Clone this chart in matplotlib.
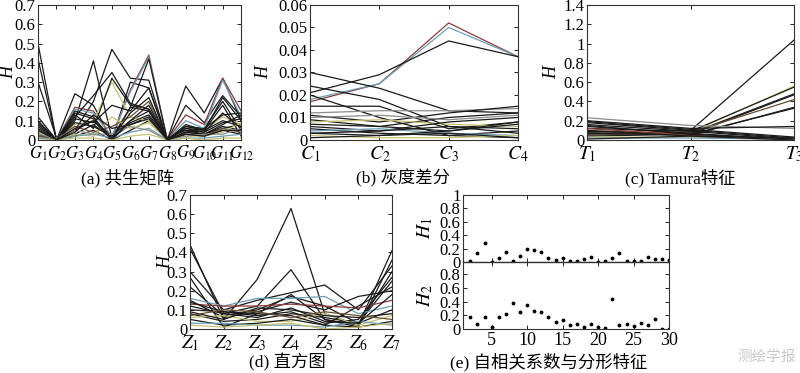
import matplotlib
matplotlib.use("Agg")
import matplotlib.pyplot as plt
from matplotlib.ticker import FuncFormatter

plt.rcParams["font.family"] = ["Liberation Serif", "Noto Sans CJK SC"]
plt.rcParams["mathtext.fontset"] = "stix"
plt.rcParams["font.size"] = 11

# =========================================================
# data
# =========================================================

# (a) co-occurrence matrix, G1..G12
glcm_labels = [f"$G_{{{i}}}$" for i in range(1, 13)]
glcm_lines = [
    [0.50, 0.00, 0.02, 0.05, 0.00, 0.05, 0.10, 0.00, 0.03, 0.02, 0.05, 0.03],
    [0.42, 0.00, 0.03, 0.08, 0.01, 0.08, 0.12, 0.00, 0.05, 0.03, 0.07, 0.05],
    [0.30, 0.01, 0.05, 0.10, 0.02, 0.10, 0.15, 0.00, 0.04, 0.03, 0.06, 0.08],
    [0.05, 0.00, 0.24, 0.18, 0.00, 0.30, 0.27, 0.00, 0.28, 0.14, 0.32, 0.10],
    [0.03, 0.00, 0.10, 0.41, 0.01, 0.17, 0.15, 0.00, 0.18, 0.09, 0.23, 0.12],
    [0.02, 0.00, 0.05, 0.20, 0.47, 0.32, 0.31, 0.00, 0.07, 0.06, 0.20, 0.05],
    [0.04, 0.00, 0.17, 0.15, 0.01, 0.26, 0.44, 0.00, 0.13, 0.08, 0.32, 0.15],
    [0.02, 0.00, 0.16, 0.14, 0.02, 0.25, 0.43, 0.00, 0.10, 0.06, 0.31, 0.12],
    [0.03, 0.00, 0.12, 0.23, 0.35, 0.19, 0.16, 0.00, 0.08, 0.05, 0.22, 0.10],
    [0.01, 0.00, 0.08, 0.10, 0.30, 0.12, 0.10, 0.00, 0.05, 0.05, 0.12, 0.08],
    [0.06, 0.00, 0.15, 0.12, 0.00, 0.17, 0.42, 0.00, 0.06, 0.05, 0.18, 0.02],
    [0.08, 0.00, 0.13, 0.06, 0.32, 0.18, 0.16, 0.00, 0.04, 0.03, 0.08, 0.13],
    [0.10, 0.00, 0.11, 0.09, 0.18, 0.15, 0.27, 0.00, 0.06, 0.04, 0.14, 0.06],
    [0.02, 0.01, 0.07, 0.04, 0.07, 0.12, 0.20, 0.00, 0.03, 0.02, 0.06, 0.04],
    [0.04, 0.00, 0.03, 0.02, 0.12, 0.06, 0.09, 0.00, 0.02, 0.02, 0.04, 0.09],
    [0.01, 0.00, 0.02, 0.03, 0.01, 0.04, 0.06, 0.00, 0.01, 0.01, 0.02, 0.03],
    [0.07, 0.00, 0.09, 0.07, 0.02, 0.09, 0.13, 0.01, 0.05, 0.04, 0.09, 0.11],
    [0.03, 0.01, 0.05, 0.03, 0.03, 0.07, 0.05, 0.00, 0.02, 0.03, 0.03, 0.06],
    [0.12, 0.00, 0.06, 0.10, 0.00, 0.10, 0.18, 0.00, 0.07, 0.05, 0.10, 0.07],
    [0.05, 0.00, 0.14, 0.11, 0.01, 0.14, 0.22, 0.00, 0.04, 0.06, 0.13, 0.14],
    [0.00, 0.00, 0.01, 0.01, 0.00, 0.02, 0.03, 0.00, 0.01, 0.00, 0.01, 0.01],
    [0.09, 0.00, 0.04, 0.13, 0.06, 0.08, 0.11, 0.00, 0.03, 0.02, 0.05, 0.05],
]

# (b) grey-level difference, C1..C4
gld_labels = [f"$C_{{{i}}}$" for i in range(1, 5)]
gld_lines = [
    [0.017, 0.025, 0.052, 0.037],
    [0.018, 0.025, 0.050, 0.037],
    [0.021, 0.029, 0.044, 0.037],
    [0.030, 0.023, 0.013, 0.012],
    [0.024, 0.018, 0.006, 0.003],
    [0.020, 0.010, 0.002, 0.001],
    [0.015, 0.015, 0.005, 0.008],
    [0.012, 0.013, 0.013, 0.014],
    [0.011, 0.008, 0.012, 0.015],
    [0.009, 0.006, 0.010, 0.012],
    [0.008, 0.009, 0.007, 0.006],
    [0.006, 0.004, 0.008, 0.010],
    [0.005, 0.003, 0.002, 0.004],
    [0.004, 0.005, 0.003, 0.002],
    [0.003, 0.002, 0.004, 0.007],
    [0.002, 0.001, 0.001, 0.002],
    [0.001, 0.002, 0.003, 0.001],
    [0.007, 0.006, 0.004, 0.008],
    [0.010, 0.011, 0.009, 0.011],
    [0.003, 0.004, 0.006, 0.005],
]

# (c) Tamura features, T1..T3
tamura_labels = [f"$T_{{{i}}}$" for i in range(1, 4)]
tamura_lines = [
    [0.08, 0.10, 1.04],
    [0.10, 0.08, 0.56],
    [0.12, 0.09, 0.55],
    [0.06, 0.07, 0.48],
    [0.09, 0.06, 0.47],
    [0.05, 0.08, 0.42],
    [0.07, 0.05, 0.34],
    [0.04, 0.06, 0.33],
    [0.23, 0.15, 0.12],
    [0.20, 0.12, 0.14],
    [0.18, 0.10, 0.02],
    [0.16, 0.09, 0.01],
    [0.14, 0.07, 0.00],
    [0.12, 0.05, 0.01],
    [0.10, 0.04, 0.02],
    [0.03, 0.03, 0.00],
    [0.02, 0.02, 0.01],
    [0.19, 0.11, 0.03],
    [0.01, 0.04, 0.00],
    [0.15, 0.06, 0.01],
]

# (d) histogram, Z1..Z7
hist_labels = [f"$Z_{{{i}}}$" for i in range(1, 8)]
hist_lines = [
    [0.44, 0.05, 0.26, 0.63, 0.08, 0.02, 0.41],
    [0.42, 0.08, 0.12, 0.31, 0.05, 0.01, 0.36],
    [0.30, 0.10, 0.15, 0.19, 0.23, 0.10, 0.33],
    [0.27, 0.01, 0.08, 0.18, 0.05, 0.02, 0.30],
    [0.22, 0.07, 0.10, 0.17, 0.12, 0.03, 0.25],
    [0.16, 0.12, 0.16, 0.16, 0.17, 0.08, 0.12],
    [0.15, 0.06, 0.09, 0.14, 0.10, 0.17, 0.20],
    [0.13, 0.12, 0.12, 0.13, 0.12, 0.11, 0.15],
    [0.10, 0.09, 0.07, 0.09, 0.03, 0.05, 0.27],
    [0.08, 0.04, 0.05, 0.08, 0.06, 0.03, 0.10],
    [0.06, 0.07, 0.04, 0.04, 0.08, 0.02, 0.07],
    [0.05, 0.02, 0.03, 0.05, 0.02, 0.01, 0.04],
    [0.03, 0.03, 0.02, 0.02, 0.01, 0.04, 0.02],
    [0.12, 0.08, 0.06, 0.11, 0.04, 0.03, 0.18],
    [0.09, 0.05, 0.11, 0.10, 0.07, 0.06, 0.08],
    [0.02, 0.01, 0.02, 0.03, 0.00, 0.01, 0.03],
    [0.14, 0.09, 0.08, 0.07, 0.02, 0.12, 0.22],
    [0.07, 0.10, 0.09, 0.06, 0.09, 0.07, 0.05],
]

# (e) autocorrelation (H1) and fractal (H2), index 2..30
e_index = list(range(2, 31))
h1_values = [0.02, 0.13, 0.28, 0.00, 0.06, 0.15, 0.02, 0.09, 0.19, 0.18,
             0.15, 0.06, 0.03, 0.06, 0.01, 0.02, 0.04, 0.08, 0.00, 0.01,
             0.06, 0.13, 0.01, 0.01, 0.02, 0.08, 0.04, 0.04, 0.03]
h2_values = [0.17, 0.07, 0.17, 0.03, 0.17, 0.22, 0.375, 0.25, 0.345, 0.27,
             0.255, 0.17, 0.10, 0.13, 0.055, 0.07, 0.035, 0.07, 0.025, 0.02,
             0.435, 0.065, 0.08, 0.045, 0.09, 0.06, 0.14, 0.005, 0.00]

captions = ["(a) 共生矩阵", "(b) 灰度差分", "(c) Tamura特征", "(d) 直方图",
            "(e) 自相关系数与分形特征"]

# =========================================================
# line colours: mostly black, a few coloured ones peeking through
# =========================================================
K = "#1a1a1a"
RED = "#8a3a3a"
BLUE = "#6a9fb8"
YEL = "#c8c070"
GRY = "#8c8c8c"
BRN = "#6b5030"

glcm_colors = [K, K, K, K, K, K, RED, BLUE, K, YEL, K, K,
               K, BRN, YEL, BLUE, K, GRY, K, K, YEL, K]
gld_colors = [RED, BLUE, K, K, K, K, K, GRY, K, K, YEL, K,
              K, BLUE, K, YEL, K, K, GRY, K]
tamura_colors = [K, YEL, K, K, K, BRN, K, K, GRY, K, K, K,
                 K, RED, K, YEL, BLUE, K, K, K]
hist_colors = [K, K, K, K, K, BLUE, K, RED, K, K, YEL, K,
               BLUE, K, K, YEL, K, BRN]


def style_axes(ax):
    ax.tick_params(direction="in", length=3, width=0.6, top=True,
                   right=True, labelsize=12, pad=2)
    for s in ax.spines.values():
        s.set_linewidth(0.8)
        s.set_color("#333333")


def fmt_g(v, pos):
    return f"{v:g}"


def line_panel(ax, lines, colors, labels, ymax, ystep, label_x, xsize=14):
    for row, c in zip(lines, colors):
        ax.plot(range(len(row)), row, color=c, lw=0.9)
    ax.set_xlim(0, len(labels) - 1)
    ax.set_ylim(0, ymax)
    ax.set_xticks(range(len(labels)))
    ax.set_xticklabels(labels)
    n = int(round(ymax / ystep))
    ax.set_yticks([ystep * k for k in range(n + 1)])
    ax.yaxis.set_major_formatter(FuncFormatter(fmt_g))
    style_axes(ax)
    ax.tick_params(axis="x", pad=3, labelsize=xsize)
    ax.set_ylabel("H", style="italic", fontsize=13)
    ax.yaxis.set_label_coords(label_x, 0.5)


fig = plt.figure(figsize=(8, 3.73), dpi=100)

ax_a = fig.add_axes([0.0475, 0.6247, 0.254, 0.362])
ax_b = fig.add_axes([0.3875, 0.6247, 0.26, 0.362])
ax_c = fig.add_axes([0.734, 0.6247, 0.259, 0.362])
ax_d = fig.add_axes([0.2375, 0.118, 0.2525, 0.359])
ax_e1 = fig.add_axes([0.579, 0.2976, 0.2575, 0.1796])
ax_e2 = fig.add_axes([0.579, 0.118, 0.2575, 0.1796])

line_panel(ax_a, glcm_lines, glcm_colors, glcm_labels, 0.7, 0.1, -0.10,
           xsize=12)
line_panel(ax_b, gld_lines, gld_colors, gld_labels, 0.06, 0.01, -0.18)
line_panel(ax_c, tamura_lines, tamura_colors, tamura_labels, 1.4, 0.2, -0.13)
line_panel(ax_d, hist_lines, hist_colors, hist_labels, 0.7, 0.1, -0.08)

# (e) two stacked dot panels
for ax, vals, top, lab in [(ax_e1, h1_values, 1.0, "$H_1$"),
                           (ax_e2, h2_values, 0.98, "$H_2$")]:
    ax.plot(e_index, vals, ls="none", marker=".", ms=3.5, color="black")
    ax.set_xlim(1, 30)
    ax.set_ylim(0, top)
    ax.set_xticks([5, 10, 15, 20, 25, 30])
    ax.set_yticks([0, 0.2, 0.4, 0.6, 0.8, 1.0] if top >= 1 else
                  [0, 0.2, 0.4, 0.6, 0.8])
    ax.yaxis.set_major_formatter(FuncFormatter(fmt_g))
    style_axes(ax)
    ax.set_ylabel(lab, fontsize=14)
    ax.yaxis.set_label_coords(-0.135, 0.5)
ax_e1.tick_params(labelbottom=False)
ax_e2.tick_params(axis="x", labelsize=13)
ax_e2.spines["top"].set_linewidth(1.0)

# captions below each panel
cap_pos = [(128, 178), (403, 178), (680, 178), (287, 362), (549, 362)]
for text, (px, py) in zip(captions, cap_pos):
    fig.text(px / 800, 1 - py / 373, text, ha="center", va="center",
             fontsize=12.5)

fig.text(767 / 800, 1 - 357 / 373, "测绘学报", ha="center", va="center",
         fontsize=10.5, color="#c8c8c8", family=["Noto Sans CJK SC"])

fig.savefig("out.png", dpi=100)
